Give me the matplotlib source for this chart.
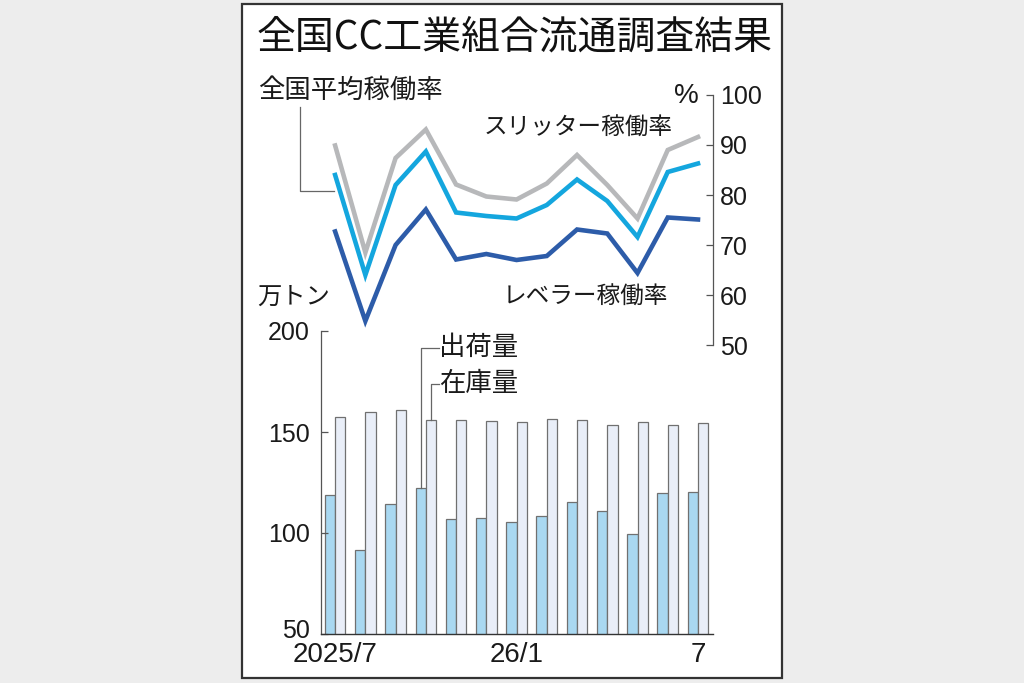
import numpy as np
import matplotlib
matplotlib.use("Agg")
import matplotlib.pyplot as plt
import matplotlib.transforms as mtransforms
from matplotlib.patches import Rectangle

# 月 (2025/7 ～ 2026/7)
months = ["2025/7", "8", "9", "10", "11", "12", "26/1", "2", "3", "4", "5", "6", "7"]
shown_ticks = {"2025/7": "2025/7", "26/1": "26/1", "7": "7"}

# 稼働率 (%)
slitter = [89.9, 68.5, 87.4, 93.1, 82.1, 79.7, 79.1, 82.3, 88.0, 82.0, 75.3, 89.0, 91.6]
national = [84.0, 64.0, 82.0, 88.7, 76.5, 75.8, 75.3, 78.0, 83.1, 78.8, 71.6, 84.6, 86.3]
lever = [72.7, 54.8, 70.0, 77.1, 67.1, 68.2, 67.0, 67.8, 73.1, 72.3, 64.4, 75.5, 75.1]

# 万トン
shipments = [118.9, 91.4, 114.6, 122.5, 107.1, 107.6, 105.6, 108.2, 115.1, 110.7, 99.7, 119.9, 120.5]
inventory = [157.4, 159.9, 161.0, 156.0, 156.1, 155.2, 155.1, 156.4, 156.1, 153.5, 155.1, 153.3, 154.6]

JP = ["Noto Sans CJK JP", "DejaVu Sans"]
NUM = "Liberation Sans"

W, H = 1024, 683
def fx(x):
    return x / W
def fy(y):
    return 1 - y / H

fig = plt.figure(figsize=(W / 100, H / 100), dpi=100, facecolor="#ededed")

# 枠
fig.patches.append(Rectangle((fx(242), fy(678)), fx(782) - fx(242), fy(4) - fy(678),
                             transform=fig.transFigure, facecolor="white",
                             edgecolor="#333333", lw=1.6, zorder=-10))

x = np.arange(len(months))
xlim = (-0.467, 12.48)
bw = 0.341

# 棒グラフ
axb = fig.add_axes([fx(321), fy(634), fx(712.5) - fx(321), fy(331) - fy(634)])
axb.set_facecolor("none")
axb.bar(x - bw / 2, shipments, width=bw, color="#a9d8f1", edgecolor="#707070", lw=0.9)
axb.bar(x + bw / 2, inventory, width=bw, color="#e9eef8", edgecolor="#707070", lw=0.9)
axb.set_xlim(*xlim)
axb.set_ylim(50, 200)
axb.set_yticks([50, 100, 150, 200])
for s in ["top", "right"]:
    axb.spines[s].set_visible(False)
axb.spines["left"].set_color("#555555")
axb.spines["left"].set_linewidth(0.9)
axb.spines["bottom"].set_color("#333333")
axb.spines["bottom"].set_linewidth(1.0)
axb.tick_params(axis="y", direction="in", length=5, width=0.9, color="#555555",
                pad=8, labelsize=18)
axb.set_xticks(x)
axb.set_xticklabels([shown_ticks.get(m, "") for m in months])
axb.tick_params(axis="x", length=0, pad=6, labelsize=20)
for lab in axb.get_xticklabels() + axb.get_yticklabels():
    lab.set_family(NUM)
    lab.set_color("#1a1a1a")

# 一番下の 50 は少し上に
lab50 = axb.get_yticklabels()[0]
lab50.set_transform(lab50.get_transform() +
                    mtransforms.ScaledTranslation(0, 6 / 100, fig.dpi_scale_trans))

# 出荷量・在庫量 引き出し線
lab_x = 3.45
axb.plot([3 - bw / 2, 3 - bw / 2, lab_x], [shipments[3], 191.7, 191.7],
         color="#666666", lw=0.9, clip_on=False)
axb.plot([3 + bw / 2, 3 + bw / 2, lab_x], [inventory[3], 173.8, 173.8],
         color="#666666", lw=0.9, clip_on=False)
axb.text(lab_x, 191.7, "出荷量", family=JP, fontsize=19, ha="left", va="center",
         color="#1a1a1a")
axb.text(lab_x, 173.8, "在庫量", family=JP, fontsize=19, ha="left", va="center",
         color="#1a1a1a")

# 折れ線グラフ
axl = fig.add_axes([fx(321), fy(345), fx(712.5) - fx(321), fy(95) - fy(345)])
axl.set_facecolor("none")
axl.plot(x, slitter, color="#b7b8ba", lw=3.3, solid_joinstyle="miter")
axl.plot(x, national, color="#14a6de", lw=3.3, solid_joinstyle="miter")
axl.plot(x, lever, color="#2d5ca9", lw=3.3, solid_joinstyle="miter")
axl.set_xlim(*xlim)
axl.set_ylim(50, 100)
axl.set_xticks([])
axl.yaxis.tick_right()
axl.set_yticks([50, 60, 70, 80, 90, 100])
for s in ["top", "left", "bottom"]:
    axl.spines[s].set_visible(False)
axl.spines["right"].set_color("#555555")
axl.spines["right"].set_linewidth(0.9)
axl.tick_params(axis="y", direction="in", length=5, width=0.9, color="#555555",
                pad=5.5, labelsize=18)
for lab in axl.get_yticklabels():
    lab.set_family(NUM)
    lab.set_color("#1a1a1a")

# 全国平均稼働率 引き出し線
axl.plot([-1.15, -1.15, -0.05], [97.6, 80.8, 80.8], color="#666666", lw=0.9,
         clip_on=False)

# 文字
fig.text(fx(257), fy(38), "全国CC工業組合流通調査結果", family=JP, fontsize=28,
         ha="left", va="center", color="#111111")
fig.text(fx(258), fy(90), "全国平均稼働率", family=JP, fontsize=19,
         ha="left", va="center", color="#1a1a1a")
fig.text(fx(673), fy(128), "スリッター稼働率", family=JP, fontsize=17,
         ha="right", va="center", color="#1a1a1a")
fig.text(fx(668), fy(297), "レベラー稼働率", family=JP, fontsize=17,
         ha="right", va="center", color="#1a1a1a")
fig.text(fx(699), fy(96), "%", family=NUM, fontsize=20, ha="right", va="center",
         color="#1a1a1a")
fig.text(fx(257), fy(297), "万トン", family=JP, fontsize=17.5, ha="left", va="center",
         color="#1a1a1a")

fig.savefig("out.png", dpi=100, facecolor=fig.get_facecolor())
